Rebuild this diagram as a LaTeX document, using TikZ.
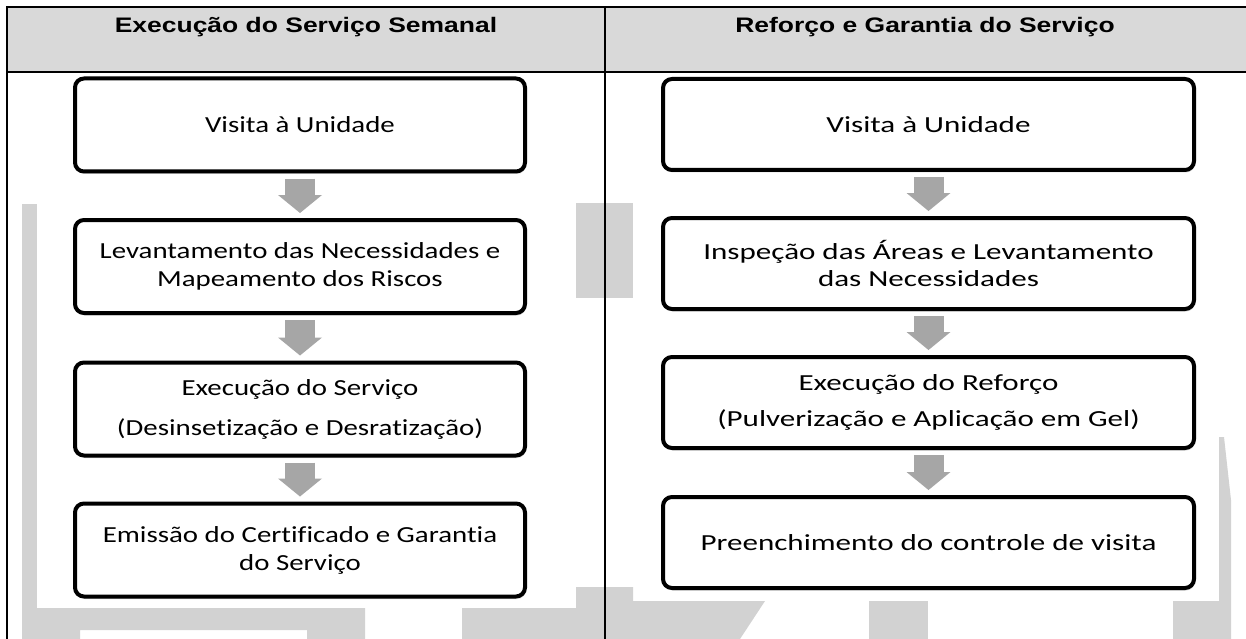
\documentclass[tikz,border=0pt]{standalone}
\usepackage{fontspec}
\usepackage{tikz}
\usetikzlibrary{arrows.meta,shadows}
\newfontfamily\headfont[FakeStretch=1.26]{Liberation Sans}
\newfontfamily\leftfont[FakeStretch=1.255,Ligatures=NoCommon]{Carlito}
\newfontfamily\rightfont[FakeStretch=1.35,Ligatures=NoCommon]{Carlito}
\definecolor{headgrey}{RGB}{217,217,217}
\definecolor{markgrey}{RGB}{210,210,210}
\definecolor{arrowgrey}{RGB}{166,166,166}

\begin{document}
\begin{tikzpicture}[x=1pt,y=-1pt,
  head/.style={anchor=base,inner sep=0pt,font=\headfont\bfseries\fontsize{21pt}{25pt}\selectfont},
  card/.style={draw,line width=4pt,rounded corners=9pt,fill=white,align=center,
    drop shadow={shadow xshift=1pt,shadow yshift=-2.5pt,opacity=.3}},
  lcard/.style={card,minimum width=450pt,minimum height=93pt,font=\leftfont\fontsize{23pt}{28pt}\selectfont},
  rcard/.style={card,minimum width=531pt,minimum height=91pt,font=\rightfont\fontsize{23pt}{27pt}\selectfont},
  flow/.style={draw=arrowgrey,line width=30pt,-{Triangle[width=44pt,length=18pt,line width=0pt]},
    shorten <=5pt,shorten >=5pt}]

\clip (0,0) rectangle (1246,639);
\fill[white] (0,0) rectangle (1246,639);
\fill[headgrey] (7,7) rectangle (1246,72);

\fill[markgrey] (22,204) rectangle (37,639);
\fill[markgrey] (22,608) -- (365,608) -- (365,639) -- (307,639) -- (307,630) -- (80,630) -- (80,639) -- (22,639) -- cycle;
\fill[markgrey] (576,203) rectangle (633,298);
\fill[markgrey] (462,608) -- (576,608) -- (576,587) -- (633,587) -- (633,601) -- (765,601) -- (740,639) -- (462,639) -- cycle;
\fill[markgrey] (869,601) rectangle (928,639);
\fill[markgrey] (1219,437) -- (1224,437) -- (1231,500) -- (1231,639) -- (1173,639) -- (1173,601) -- (1219,601) -- cycle;

\draw[line width=1.3pt] (1246,7) -- (7,7) -- (7,639);
\draw[line width=1.3pt] (7,72) -- (1246,72);
\draw[line width=1.3pt] (605,7) -- (605,639);

\node[head] (hsem) at (306,33) {Execução do Serviço Semanal};
\node[head] (href) at (925,33) {Reforço e Garantia do Serviço};

\node[lcard] (visL) at (300,125) {Visita à Unidade};
\node[lcard] (levL) at (300,266.5) {Levantamento das Necessidades e\\Mapeamento dos Riscos};
\node[lcard] (exeL) at (300,409) {Execução do Serviço\\[12pt](Desinsetização e Desratização)};
\node[lcard] (emiL) at (300,550) {Emissão do Certificado e Garantia\\do Serviço};

\node[rcard] (visR) at (928.5,124.5) {Visita à Unidade};
\node[rcard] (insR) at (928.5,263.5) {Inspeção das Áreas e Levantamento\\das Necessidades};
\node[rcard] (exeR) at (928.5,402.5) {Execução do Reforço\\[9pt](Pulverização e Aplicação em Gel)};
\node[rcard] (preR) at (928.5,542.5) {Preenchimento do controle de visita};

\draw[flow] (visL) -- (levL);
\draw[flow] (levL) -- (exeL);
\draw[flow] (exeL) -- (emiL);
\draw[flow] (visR) -- (insR);
\draw[flow] (insR) -- (exeR);
\draw[flow] (exeR) -- (preR);

\end{tikzpicture}
\end{document}
